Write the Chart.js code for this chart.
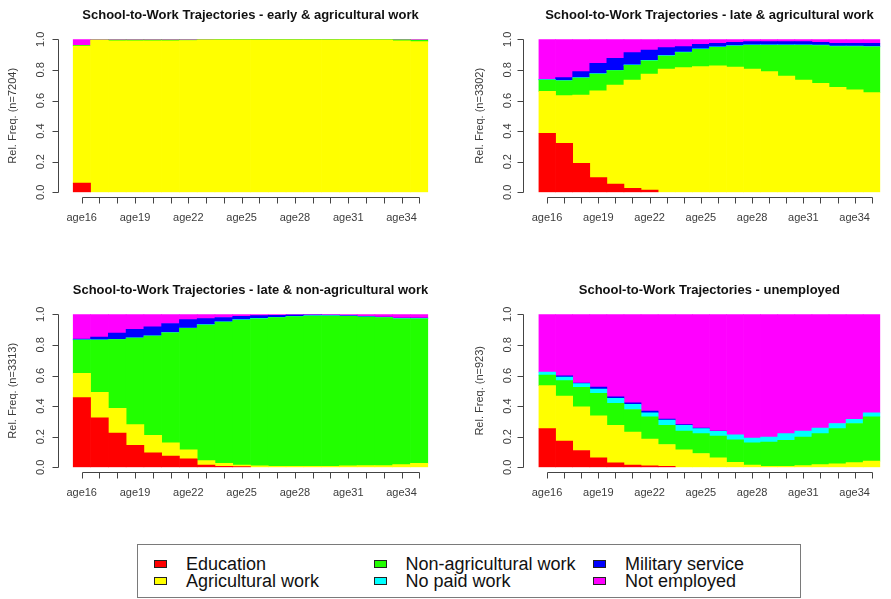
<!DOCTYPE html>
<html>
<head>
<meta charset="utf-8">
<script src="https://cdn.jsdelivr.net/npm/chart.js@4.4.1/dist/chart.umd.min.js"></script>
<style>
  html, body { margin: 0; padding: 0; background: #fff; }
  body { width: 891px; height: 599px; overflow: hidden; position: relative;
         font-family: "Liberation Sans", Arial, Helvetica, sans-serif; }
  canvas { position: absolute; }
  #legend { position: absolute; left: 137px; top: 544px; width: 664px; height: 54px;
            border: 1px solid #7a7a7a; box-sizing: border-box; }
  .key { position: absolute; font-size: 18px; line-height: 18px; color: #111; white-space: nowrap; }
  .key i { position: absolute; left: -32px; top: 5px; width: 11px; height: 6px;
           border: 1px solid #222; }
</style>
</head>
<body>
<canvas id="panelEarlyAgr" width="445" height="250" style="left:0px;top:0px"></canvas>
<canvas id="panelLateAgr" width="446" height="250" style="left:445px;top:0px"></canvas>
<canvas id="panelLateNonAgr" width="445" height="250" style="left:0px;top:275px"></canvas>
<canvas id="panelUnemployed" width="446" height="250" style="left:445px;top:275px"></canvas>
<div id="legend"></div>

<script>
// Time axis: one bar per year of age
const ages = ['age16','age17','age18','age19','age20','age21','age22','age23','age24','age25',
              'age26','age27','age28','age29','age30','age31','age32','age33','age34','age35'];
const shownAges = ['age16','age19','age22','age25','age28','age31','age34'];
const yTicks = [0, 0.2, 0.4, 0.6, 0.8, 1.0];

// States, stacked bottom to top
const stateNames = ['Education','Agricultural work','Non-agricultural work','No paid work','Military service','Not employed'];
const stateColors = ['#FF0000','#FFFF00','#22FF00','#00FFFF','#0000FF','#FF00FF'];

const panelTitles = [
  'School-to-Work Trajectories - early & agricultural work',
  'School-to-Work Trajectories - late & agricultural work',
  'School-to-Work Trajectories - late & non-agricultural work',
  'School-to-Work Trajectories - unemployed'
];
const sampleSizes = [7204, 3302, 3313, 923];

// Cluster 1: early & agricultural work
const earlyAgrEducation   = [0.06,0,0,0,0,0,0,0,0,0,0,0,0,0,0,0,0,0,0,0];
const earlyAgrAgriculture = [0.895,0.995,0.99,0.99,0.99,0.99,0.992,0.996,0.997,0.997,0.997,0.997,0.997,0.997,0.997,0.997,0.997,0.997,0.99,0.985];
const earlyAgrNonAgr      = [0.005,0.002,0.007,0.007,0.007,0.007,0.005,0.002,0.002,0.002,0.002,0.002,0.002,0.002,0.002,0.002,0.002,0.002,0.008,0.01];
const earlyAgrNoPaid      = [0,0,0,0,0,0,0,0,0,0,0,0,0,0,0,0,0,0,0,0];
const earlyAgrMilitary    = [0,0,0,0,0,0,0,0,0,0,0,0,0,0,0,0,0,0,0,0];
const earlyAgrNotEmployed = [0.04,0.003,0.003,0.003,0.003,0.003,0.003,0.002,0.001,0.001,0.001,0.001,0.001,0.001,0.001,0.001,0.001,0.001,0.002,0.005];

// Cluster 2: late & agricultural work
const lateAgrEducation   = [0.386,0.32,0.19,0.096,0.054,0.026,0.015,0,0,0,0,0,0,0,0,0,0,0,0,0];
const lateAgrAgriculture = [0.274,0.312,0.446,0.568,0.646,0.708,0.758,0.806,0.815,0.821,0.826,0.819,0.806,0.789,0.76,0.734,0.712,0.686,0.669,0.651];
const lateAgrNonAgr      = [0.074,0.096,0.111,0.109,0.095,0.096,0.087,0.085,0.098,0.114,0.122,0.137,0.155,0.172,0.201,0.227,0.247,0.266,0.283,0.299];
const lateAgrNoPaid      = [0.003,0.003,0.003,0.003,0.003,0.003,0.003,0.003,0.003,0.003,0.003,0.003,0.003,0.003,0.003,0.003,0.003,0.003,0.003,0.003];
const lateAgrMilitary    = [0.002,0.019,0.039,0.067,0.078,0.08,0.067,0.052,0.036,0.029,0.023,0.021,0.021,0.021,0.021,0.021,0.018,0.019,0.019,0.021];
const lateAgrNotEmployed = [0.261,0.25,0.211,0.157,0.124,0.087,0.07,0.054,0.048,0.033,0.026,0.02,0.015,0.015,0.015,0.015,0.02,0.026,0.026,0.026];

// Cluster 3: late & non-agricultural work
const lateNonAgrEducation   = [0.455,0.323,0.224,0.143,0.095,0.073,0.055,0.015,0.007,0.004,0,0,0,0,0,0,0,0,0,0];
const lateNonAgrAgriculture = [0.16,0.167,0.161,0.136,0.114,0.087,0.059,0.029,0.019,0.011,0.009,0.007,0.007,0.007,0.007,0.009,0.011,0.011,0.018,0.026];
const lateNonAgrNonAgr      = [0.216,0.341,0.45,0.565,0.648,0.719,0.794,0.886,0.923,0.948,0.962,0.971,0.978,0.982,0.982,0.978,0.971,0.967,0.953,0.945];
const lateNonAgrNoPaid      = [0.002,0.002,0.002,0.002,0.002,0.002,0.002,0.002,0.002,0.002,0.002,0.002,0.002,0.002,0.002,0.002,0.002,0.002,0.002,0.002];
const lateNonAgrMilitary    = [0.005,0.018,0.04,0.055,0.059,0.059,0.055,0.04,0.028,0.022,0.018,0.013,0.009,0.005,0.004,0.003,0.002,0.002,0.002,0.002];
const lateNonAgrNotEmployed = [0.162,0.149,0.123,0.099,0.082,0.06,0.035,0.028,0.021,0.013,0.009,0.007,0.004,0.004,0.005,0.008,0.014,0.018,0.025,0.025];

// Cluster 4: unemployed
const unemployedEducation   = [0.253,0.171,0.11,0.062,0.029,0.015,0.009,0.007,0,0,0,0,0,0,0,0,0,0,0,0];
const unemployedAgriculture = [0.281,0.295,0.286,0.274,0.246,0.216,0.176,0.142,0.114,0.09,0.062,0.033,0.015,0.007,0.007,0.011,0.018,0.022,0.031,0.04];
const unemployedNonAgr      = [0.068,0.101,0.127,0.148,0.143,0.147,0.145,0.126,0.123,0.13,0.142,0.147,0.145,0.158,0.169,0.187,0.202,0.231,0.255,0.29];
const unemployedNoPaid      = [0.02,0.022,0.024,0.028,0.033,0.033,0.026,0.033,0.038,0.033,0.031,0.033,0.031,0.033,0.044,0.039,0.037,0.033,0.028,0.026];
const unemployedMilitary    = [0,0.009,0.004,0.012,0.01,0.01,0.012,0.007,0.004,0.003,0.002,0,0,0,0,0,0,0,0,0];
const unemployedNotEmployed = [0.378,0.402,0.449,0.476,0.539,0.579,0.632,0.685,0.721,0.744,0.763,0.787,0.809,0.802,0.78,0.763,0.743,0.714,0.686,0.644];

const FONT = '"Liberation Sans", Arial, Helvetica, sans-serif';
const AXIS_INK = '#3c3c3c';

// Base-graphics style axes: detached from the plotting region, spanning first to last tick
const detachedAxes = {
  id: 'detachedAxes',
  afterDraw(chart, args, opts) {
    const { ctx, chartArea, scales: { x, y } } = chart;
    ctx.save();
    ctx.strokeStyle = opts.color;
    ctx.lineWidth = 1;
    ctx.beginPath();
    const ax = Math.round(chartArea.left - opts.yGap) + 0.5;
    const yLo = Math.round(y.getPixelForValue(yTicks[0])) + 0.5;
    const yHi = Math.round(y.getPixelForValue(yTicks[yTicks.length - 1])) + 0.5;
    ctx.moveTo(ax, yLo); ctx.lineTo(ax, yHi);
    yTicks.forEach(v => {
      const py = Math.round(y.getPixelForValue(v)) + 0.5;
      ctx.moveTo(ax, py); ctx.lineTo(ax - opts.tick, py);
    });
    const ay = Math.round(chartArea.bottom + opts.xGap) + 0.5;
    const xFirst = Math.round(x.getPixelForTick(0)) + 0.5;
    const xLast = Math.round(x.getPixelForTick(x.ticks.length - 1)) + 0.5;
    ctx.moveTo(xFirst, ay); ctx.lineTo(xLast, ay);
    x.ticks.forEach((t, i) => {
      const px = Math.round(x.getPixelForTick(i)) + 0.5;
      ctx.moveTo(px, ay); ctx.lineTo(px, ay + opts.tick);
    });
    ctx.stroke();
    ctx.restore();
  }
};

function buildPanel(canvasId, title, n, series, frame) {
  const datasets = stateNames.map((name, k) => ({
    label: name,
    data: series[k].map(v => (v === 0 ? null : v)),
    backgroundColor: stateColors[k],
    borderWidth: 0,
    barPercentage: 1,
    categoryPercentage: 1
  }));
  return new Chart(document.getElementById(canvasId), {
    type: 'bar',
    data: { labels: ages, datasets },
    options: {
      responsive: false,
      animation: false,
      events: [],
      layout: { padding: { left: 0, right: frame.padRight, top: 0, bottom: 0 } },
      plugins: {
        legend: { display: false },
        tooltip: { enabled: false },
        title: {
          display: true, text: title, fullSize: false, color: '#111',
          font: { family: FONT, size: 13, weight: 'bold', lineHeight: 1.2 },
          padding: { top: 7.2, bottom: 16.5 }
        },
        detachedAxes: { color: '#444', yGap: frame.yGap, xGap: 5, tick: 6 }
      },
      scales: {
        x: {
          stacked: true, offset: true,
          grid: { display: false, drawTicks: false },
          border: { display: false },
          ticks: {
            autoSkip: false, maxRotation: 0, minRotation: 0, padding: 19,
            color: AXIS_INK, font: { family: FONT, size: 11 },
            callback(value, index) { return shownAges.includes(ages[index]) ? ages[index] : ''; }
          },
          afterFit(scale) { scale.height = 57.7; }
        },
        y: {
          stacked: true, min: 0, max: 1,
          grid: { display: false, drawTicks: false },
          border: { display: false },
          afterBuildTicks(scale) { scale.ticks = yTicks.map(v => ({ value: v })); },
          ticks: {
            minRotation: 90, maxRotation: 90, crossAlign: 'center', padding: frame.labelPad,
            color: AXIS_INK, font: { family: FONT, size: 11 },
            callback: v => Number(v).toFixed(1)
          },
          title: {
            display: true, text: 'Rel. Freq. (n=' + n + ')', color: AXIS_INK,
            font: { family: FONT, size: 11, lineHeight: 1.2 },
            padding: { top: frame.titlePad, bottom: 0 }
          },
          afterFit(scale) { scale.width = frame.axisWidth; }
        }
      }
    },
    plugins: [detachedAxes]
  });
}

const leftFrame  = { axisWidth: 72.8, padRight: 16.8, yGap: 14.5, labelPad: 24.6, titlePad: 6.7 };
const rightFrame = { axisWidth: 93.5, padRight: 0,    yGap: 15.2, labelPad: 22.5, titlePad: 28.4 };

buildPanel('panelEarlyAgr', panelTitles[0], sampleSizes[0],
  [earlyAgrEducation, earlyAgrAgriculture, earlyAgrNonAgr, earlyAgrNoPaid, earlyAgrMilitary, earlyAgrNotEmployed], leftFrame);
buildPanel('panelLateAgr', panelTitles[1], sampleSizes[1],
  [lateAgrEducation, lateAgrAgriculture, lateAgrNonAgr, lateAgrNoPaid, lateAgrMilitary, lateAgrNotEmployed], rightFrame);
buildPanel('panelLateNonAgr', panelTitles[2], sampleSizes[2],
  [lateNonAgrEducation, lateNonAgrAgriculture, lateNonAgrNonAgr, lateNonAgrNoPaid, lateNonAgrMilitary, lateNonAgrNotEmployed], leftFrame);
buildPanel('panelUnemployed', panelTitles[3], sampleSizes[3],
  [unemployedEducation, unemployedAgriculture, unemployedNonAgr, unemployedNoPaid, unemployedMilitary, unemployedNotEmployed], rightFrame);

// Shared key: three columns, filled column by column
const legendBox = document.getElementById('legend');
const keyColumns = [48, 267.5, 487];
const keyRows = [10, 27];
stateNames.forEach((name, k) => {
  const item = document.createElement('div');
  item.className = 'key';
  item.style.left = keyColumns[Math.floor(k / 2)] + 'px';
  item.style.top = keyRows[k % 2] + 'px';
  const swatch = document.createElement('i');
  swatch.style.background = stateColors[k];
  item.appendChild(swatch);
  item.appendChild(document.createTextNode(name));
  legendBox.appendChild(item);
});
</script>
</body>
</html>
